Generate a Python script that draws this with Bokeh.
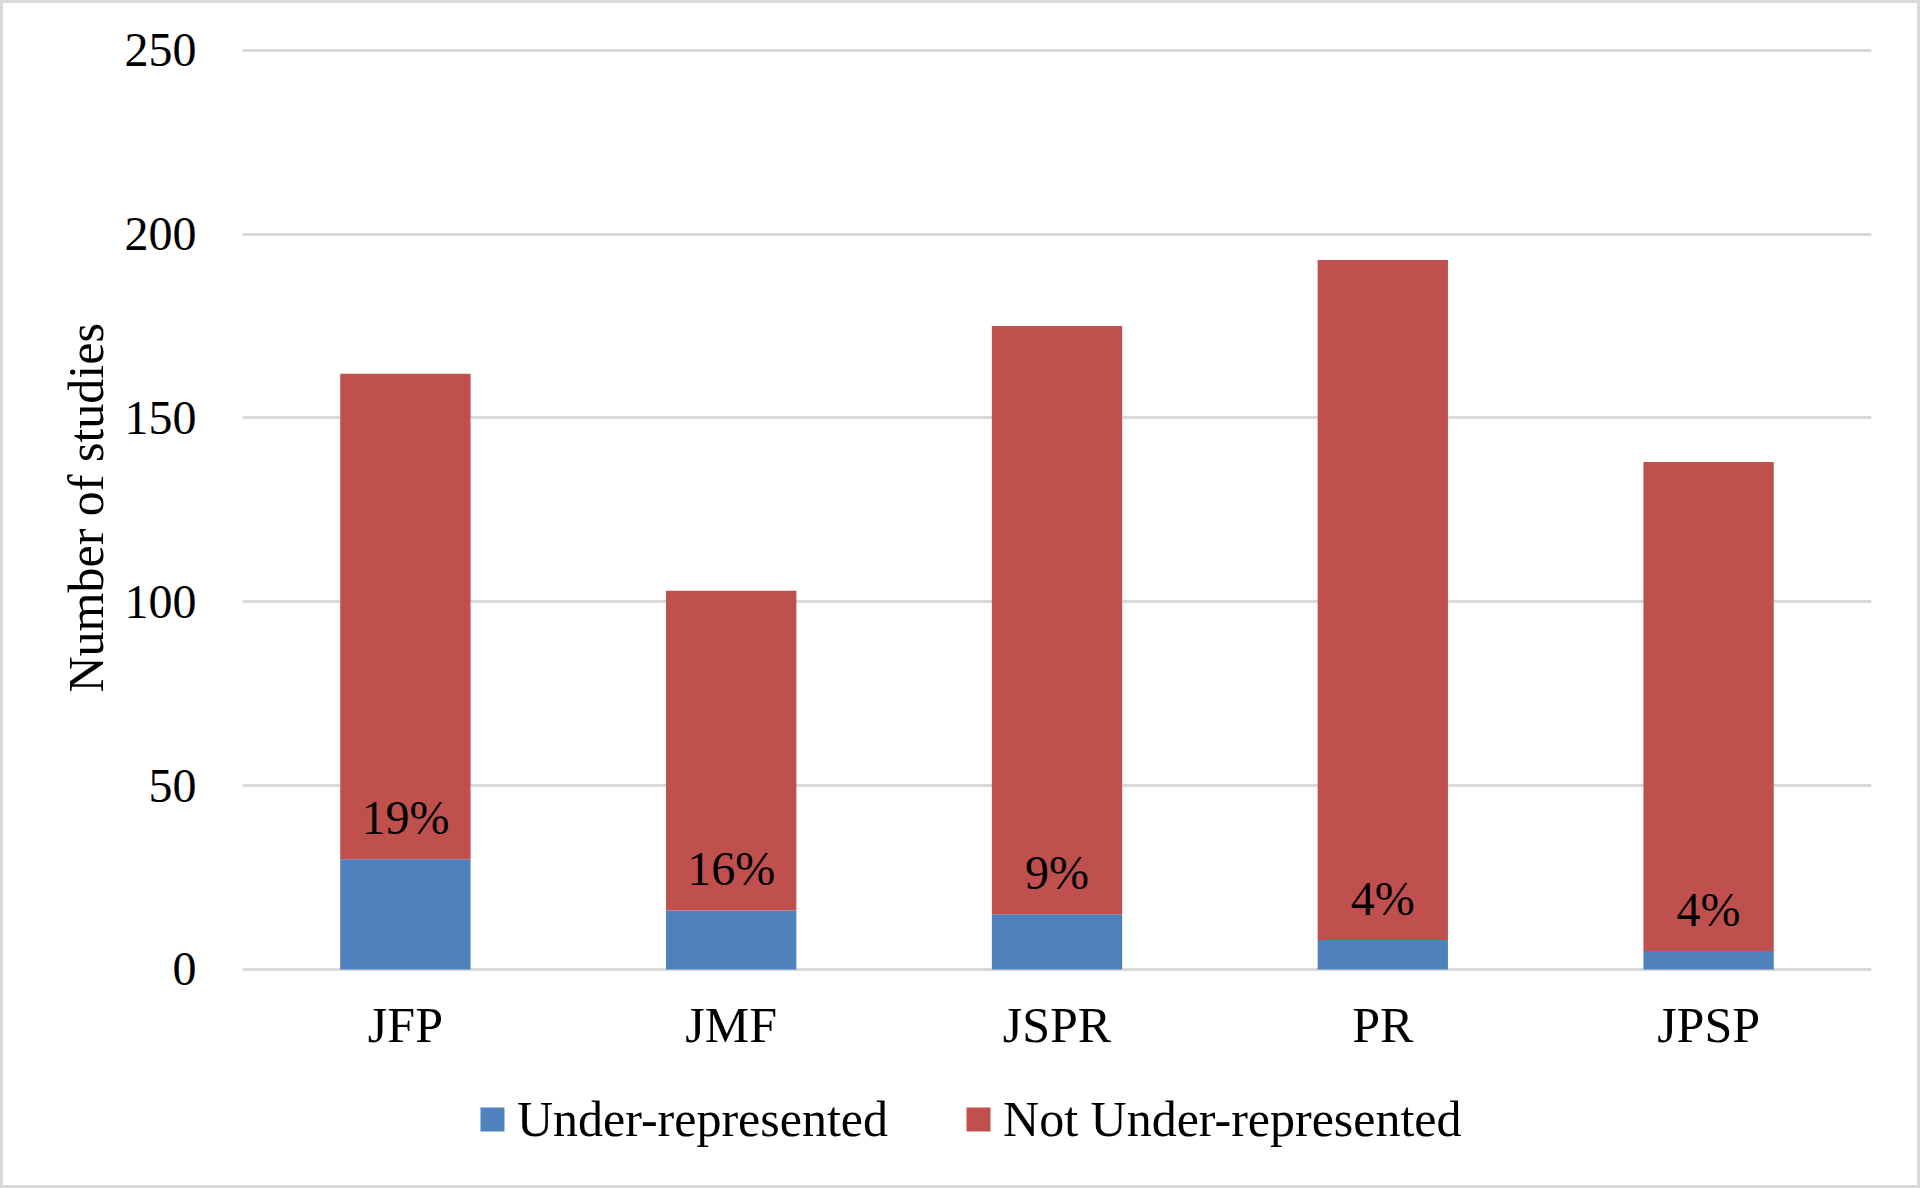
from bokeh.plotting import figure
from bokeh.models import ColumnDataSource, Legend, LegendItem, Range1d, FactorRange, FixedTicker, Title
from bokeh.core.properties import value
from bokeh.embed import file_html
from bokeh.resources import INLINE

# ---- data ----
journals = ["JFP", "JMF", "JSPR", "PR", "JPSP"]
under = [30, 16, 15, 8, 5]
not_under = [132, 87, 160, 185, 133]
y_ticks = [0, 50, 100, 150, 200, 250]
series_names = ["Under-represented", "Not Under-represented"]
y_title = "Number of studies"

total = [u + n for u, n in zip(under, not_under)]
pct = [f"{round(100 * u / t)}%" for u, t in zip(under, total)]
base = [0] * len(journals)

BLUE = "#4F81BD"
RED = "#C0504D"
GRID = "#d9d9d9"
FONT = "Liberation Serif"

source = ColumnDataSource(dict(journal=journals, under=under, not_under=not_under,
                               total=total, pct=pct, base=base))

# frame extends below the axis to hold category labels and legend
p = figure(x_range=FactorRange(*journals), y_range=Range1d(-60.4, 250.5),
           width=1920, height=1188, output_backend="svg", toolbar_location=None,
           title=None, x_axis_location=None,
           min_border_left=239, min_border_right=52,
           min_border_top=45, min_border_bottom=0)

rs = p.vbar_stack(["under", "not_under"], x="journal", width=0.4,
                  color=[BLUE, RED], line_color=None, source=source)

# percentage labels
p.text(x="journal", y="under", text="pct", source=source,
       text_align="center", text_baseline="alphabetic", y_offset=-42,
       text_font=value(FONT), text_font_size="48px", text_color="black")

# category labels under the zero line
p.text(x="journal", y="base", text="journal", source=source,
       text_align="center", text_baseline="alphabetic", y_offset=56,
       text_font=value(FONT), text_font_size="50px", text_color="black")

# y axis
p.yaxis.ticker = FixedTicker(ticks=y_ticks)
p.yaxis.axis_line_color = None
p.yaxis.major_tick_line_color = None
p.yaxis.minor_tick_line_color = None
p.yaxis.major_tick_out = 0
p.yaxis.major_label_standoff = 46
p.yaxis.major_label_text_font = FONT
p.yaxis.major_label_text_font_size = "48px"
p.yaxis.major_label_text_color = "black"

p.add_layout(Title(text=y_title, align="left", offset=499, standoff=16,
                   text_font=FONT, text_font_size="50px", text_font_style="normal",
                   text_color="black"), "left")

p.xgrid.visible = False
p.ygrid.ticker = FixedTicker(ticks=y_ticks)
p.ygrid.grid_line_color = GRID
p.ygrid.grid_line_width = 3
p.outline_line_color = None
p.background_fill_color = "white"
p.border_fill_color = "white"

legend = Legend(items=[LegendItem(label=series_names[0], renderers=[rs[0]]),
                       LegendItem(label=series_names[1], renderers=[rs[1]])],
                orientation="horizontal", location=(235, 43),
                glyph_width=30, glyph_height=30, label_standoff=10, spacing=75,
                padding=0, margin=0, border_line_color=None,
                background_fill_alpha=0,
                label_text_font=FONT, label_text_font_size="50px",
                label_text_color="black")
p.add_layout(legend)

p.styles = {"border": "3px solid #d9d9d9", "box-sizing": "border-box"}

open("out.html", "w").write(file_html(p, INLINE))
